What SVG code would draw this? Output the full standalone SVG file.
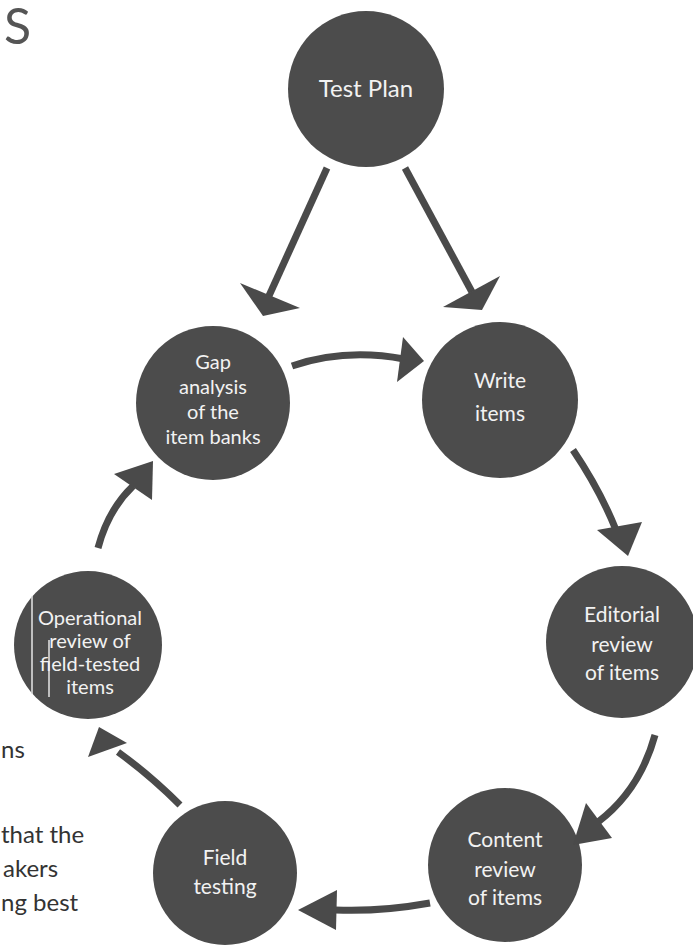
<svg xmlns="http://www.w3.org/2000/svg" width="693" height="949" viewBox="0 0 693 949">
<style>
.node{fill:#4c4c4c;}
.lbl{fill:#f2f2f2;font-family:Lato,"Open Sans",sans-serif;text-anchor:middle;}
.shaft{fill:none;stroke:#4a4a4a;stroke-width:7;stroke-linecap:butt;}
.head{fill:#4a4a4a;}
.side{fill:#333333;font-family:Lato,"Open Sans",sans-serif;font-size:24px;}
.scan{stroke:#e6e6e6;stroke-width:1.5;}
</style>
<rect width="693" height="949" fill="#ffffff"/>
<text x="4" y="44" font-family="Lato,'Open Sans',sans-serif" font-size="50" fill="#555555">S</text>
<text class="side" x="1" y="758">ns</text>
<text class="side" x="1" y="843">that the</text>
<text class="side" x="3" y="877">akers</text>
<text class="side" x="1" y="911">ng best</text>

<g id="n-testplan"><circle class="node" cx="366" cy="89" r="78"/><text class="lbl" x="366" y="97" font-size="24">Test Plan</text></g>
<g id="n-gap"><circle class="node" cx="213" cy="403" r="77"/><text class="lbl" font-size="20"><tspan x="213" y="369">Gap</tspan><tspan x="213" y="394">analysis</tspan><tspan x="213" y="419">of the</tspan><tspan x="213" y="444">item banks</tspan></text></g>
<g id="n-write"><circle class="node" cx="500" cy="400" r="78"/><text class="lbl" font-size="21"><tspan x="500" y="388">Write</tspan><tspan x="500" y="421">items</tspan></text></g>
<g id="n-editorial"><circle class="node" cx="622" cy="642" r="76"/><text class="lbl" font-size="21"><tspan x="622" y="622">Editorial</tspan><tspan x="622" y="652">review</tspan><tspan x="622" y="680">of items</tspan></text></g>
<g id="n-content"><circle class="node" cx="505" cy="865" r="77"/><text class="lbl" font-size="21"><tspan x="505" y="847">Content</tspan><tspan x="505" y="877">review</tspan><tspan x="505" y="905">of items</tspan></text></g>
<g id="n-field"><circle class="node" cx="225" cy="873" r="72"/><text class="lbl" font-size="21"><tspan x="225" y="865">Field</tspan><tspan x="225" y="894">testing</tspan></text></g>
<g id="n-operational"><circle class="node" cx="88" cy="645" r="74"/>
<line class="scan" x1="32" y1="596" x2="32" y2="694"/><line class="scan" x1="49" y1="640" x2="49" y2="697"/>
<text class="lbl" font-size="20"><tspan x="90" y="625">Operational</tspan><tspan x="90" y="648">review of</tspan><tspan x="90" y="671">field-tested</tspan><tspan x="90" y="694">items</tspan></text></g>

<g id="connectors">
<path class="shaft" d="M327,168 L268,298"/>
<polygon class="head" points="240,283 300,308 263,316"/>
<path class="shaft" d="M405,168 L472,292"/>
<polygon class="head" points="443,307 500,276 482,310"/>
<path class="shaft" d="M292,366 Q345,348 404,359"/>
<polygon class="head" points="403,337 424,361 397,382"/>
<path class="shaft" d="M573,450 Q600,490 616,530"/>
<polygon class="head" points="597,530 642,522 628,556"/>
<path class="shaft" d="M655,735 Q640,790 598,822"/>
<polygon class="head" points="586,803 612,838 573,845"/>
<path class="shaft" d="M430,903 Q380,912 335,910"/>
<polygon class="head" points="337,890 336,930 298,910"/>
<path class="shaft" d="M180,805 Q150,775 118,752"/>
<polygon class="head" points="88,757 99,727 127,743"/>
<path class="shaft" d="M98,548 Q108,510 133,486"/>
<polygon class="head" points="114,474 152,500 153,461"/>
</g>
</svg>
